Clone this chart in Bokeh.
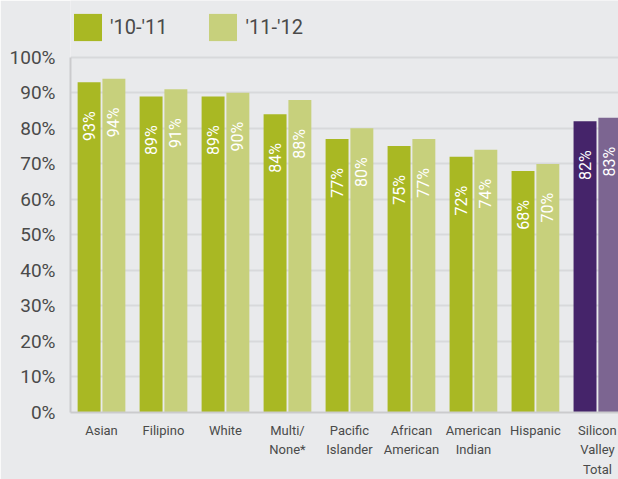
import math
from bokeh.plotting import figure
from bokeh.models import ColumnDataSource, Range1d, FixedTicker, Legend, LegendItem
from bokeh.transform import dodge
from bokeh.core.properties import value
from bokeh.embed import file_html
from bokeh.resources import INLINE

categories = ["Asian", "Filipino", "White", "Multi/\nNone*", "Pacific\nIslander",
              "African\nAmerican", "American\nIndian", "Hispanic", "Silicon\nValley\nTotal"]
series_names = ["'10-'11", "'11-'12"]
values_1011 = [93, 89, 89, 84, 77, 75, 72, 68, 82]
values_1112 = [94, 91, 90, 88, 80, 77, 74, 70, 83]
y_ticks = [0, 10, 20, 30, 40, 50, 60, 70, 80, 90, 100]

GREEN1, GREEN2 = "#a9b823", "#c7d07c"
PURPLE1, PURPLE2 = "#45246a", "#7c6591"
BG = "#e9eaec"
TXT = "#4a4a4a"
FONT = "Roboto"

n = len(categories)
idx = list(range(n))
c1 = [PURPLE1 if i == n - 1 else GREEN1 for i in idx]
c2 = [PURPLE2 if i == n - 1 else GREEN2 for i in idx]

src = ColumnDataSource(dict(
    idx=idx, v1=values_1011, v2=values_1112, c1=c1, c2=c2,
    l1=[f"{v}%" for v in values_1011], l2=[f"{v}%" for v in values_1112],
))

p = figure(width=618, height=479, output_backend="svg", toolbar_location=None,
           x_range=Range1d(-0.5, 8.34), y_range=Range1d(0, 116),
           min_border_left=70, min_border_right=0, min_border_top=0, min_border_bottom=65)
p.background_fill_color = BG
p.border_fill_color = BG
p.outline_line_color = None

r1 = p.vbar(x=dodge("idx", -0.2), top="v1", width=0.37, bottom=0,
            fill_color="c1", line_color=None, source=src)
r2 = p.vbar(x=dodge("idx", 0.2), top="v2", width=0.37, bottom=0,
            fill_color="c2", line_color=None, source=src)

for off, lab, val in [(-0.2, "l1", "v1"), (0.2, "l2", "v2")]:
    p.text(x=dodge("idx", off), y=val, text=lab, source=src,
           angle=math.pi / 2, text_align="right", text_baseline="middle",
           y_offset=29, text_color="white", text_font=value(FONT), text_font_size="16px")

# axes
p.xaxis.ticker = FixedTicker(ticks=idx)
p.xaxis.major_label_overrides = {i: c for i, c in zip(idx, categories)}
p.xaxis.major_label_text_font = FONT
p.xaxis.major_label_text_font_size = "13px"
p.xaxis.major_label_text_color = TXT
p.xaxis.major_label_text_line_height = 1.3
p.xaxis.major_label_standoff = 4
p.xaxis.major_tick_line_color = None
p.xaxis.minor_tick_line_color = None
p.xaxis.axis_line_color = "#cbcbcd"
p.xaxis.axis_line_width = 2

p.yaxis.ticker = FixedTicker(ticks=y_ticks)
p.yaxis.bounds = (0, 100)
p.yaxis.major_label_overrides = {t: f"{t}%" for t in y_ticks}
p.yaxis.major_label_text_font = FONT
p.yaxis.major_label_text_font_size = "19px"
p.yaxis.major_label_text_color = TXT
p.yaxis.major_label_standoff = 9
p.yaxis.major_tick_line_color = None
p.yaxis.minor_tick_line_color = None
p.yaxis.axis_line_color = "#cbcbcd"
p.yaxis.axis_line_width = 2

p.xgrid.grid_line_color = None
p.ygrid.grid_line_color = "#d8d9db"
p.ygrid.grid_line_width = 2

legend = Legend(items=[LegendItem(label=series_names[0], renderers=[r1], index=0),
                       LegendItem(label=series_names[1], renderers=[r2], index=0)],
                orientation="horizontal", location=(0, 368),
                glyph_width=35, glyph_height=34, label_standoff=5, spacing=38,
                padding=0, margin=0,
                label_text_font=FONT, label_text_font_size="20px", label_text_color=TXT,
                background_fill_alpha=0, border_line_color=None)
p.add_layout(legend)

open("out.html", "w").write(file_html(p, INLINE))
